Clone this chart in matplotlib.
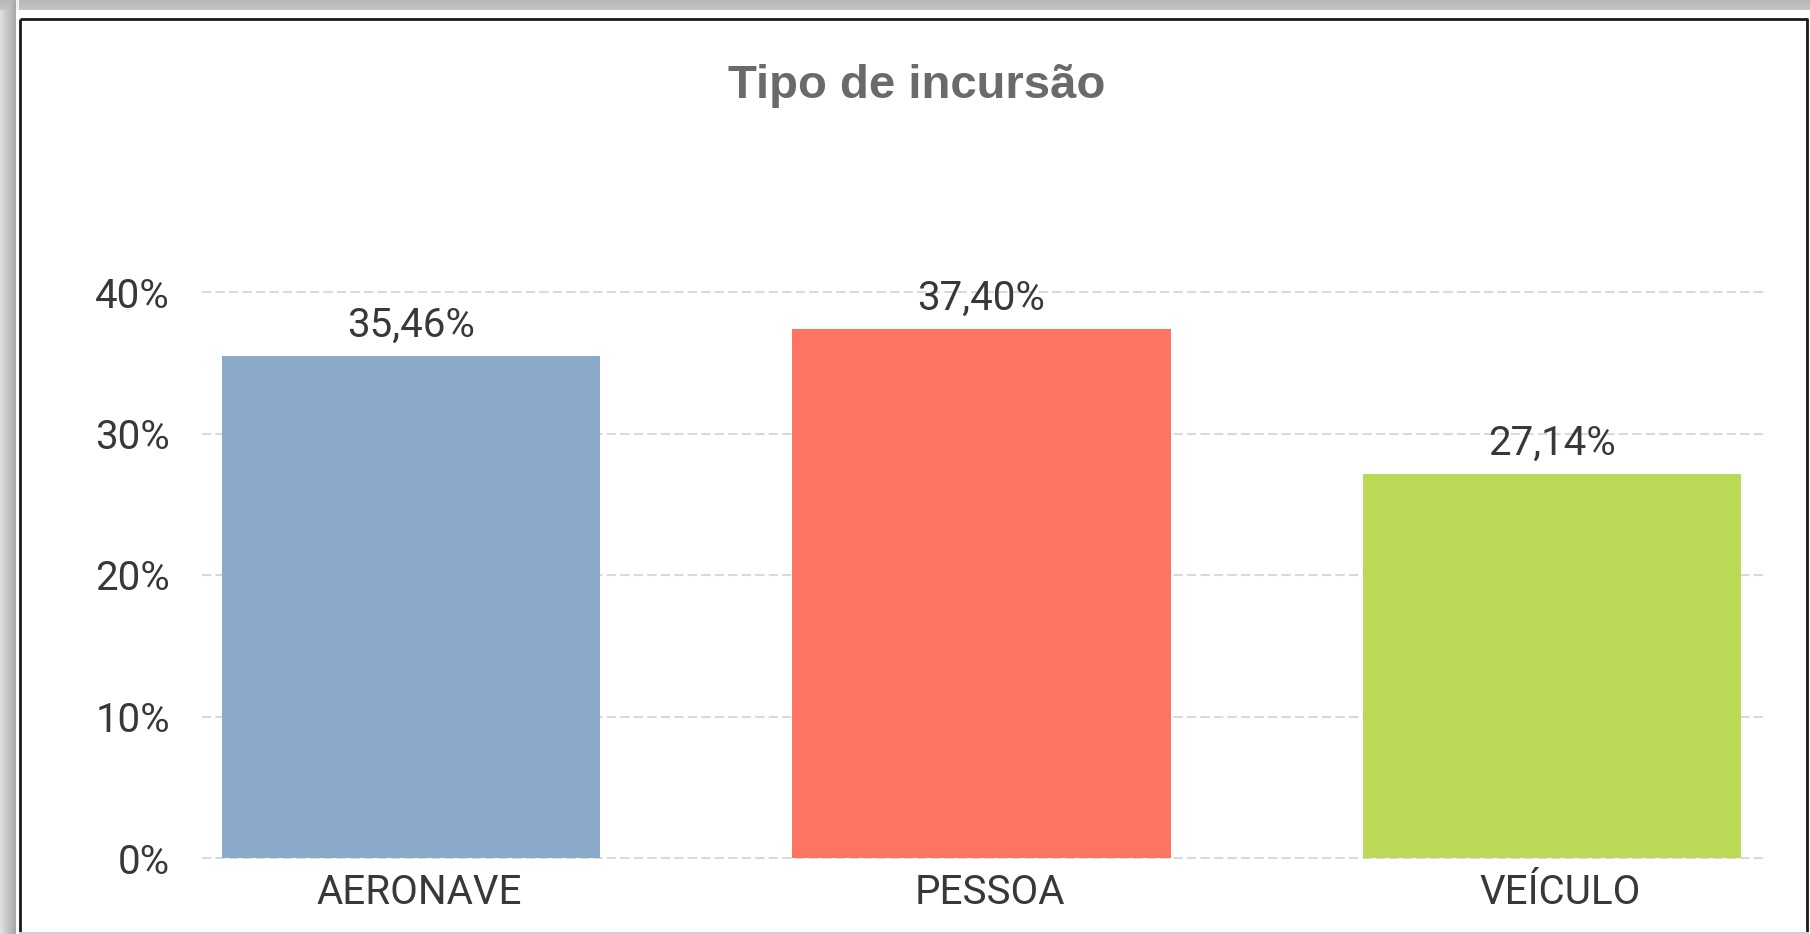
import numpy as np
import matplotlib
matplotlib.use("Agg")
import matplotlib.pyplot as plt
from matplotlib.ticker import FuncFormatter
from matplotlib.transforms import ScaledTranslation

# ---- data ----
categories = ["AERONAVE", "PESSOA", "VEÍCULO"]
values = [35.46, 37.40, 27.14]
bar_colors = ["#8BA9C9", "#FD7463", "#BBD857"]
yticks = [0, 10, 20, 30, 40]
title = "Tipo de incursão"

W, H = 1810, 934
fig = plt.figure(figsize=(W / 100, H / 100), dpi=100)
fig.patch.set_facecolor("white")

# ---- background frame with shadow ----
bg = fig.add_axes([0, 0, 1, 1], zorder=-10)
bg.set_xlim(0, W)
bg.set_ylim(H, 0)
bg.axis("off")
img = np.ones((H, W, 3))
for x in range(0, 16):
    g = 0.88 - 0.22 * (x / 15.0)
    img[:, x, :] = g
for y in range(0, 10):
    g = 0.72 + 0.05 * (y / 9.0)
    img[y, :, :] = np.minimum(img[y, :, :], g)
img[:, 16:19, :] = np.maximum(img[:, 16:19, :], 0.95)
bg.imshow(img, extent=[0, W, H, 0], aspect="auto", interpolation="nearest")
bg.plot([20, 20], [19, H], color="#1a1a1a", lw=2.0, solid_capstyle="butt")
bg.plot([20, 1808], [19, 19], color="#1a1a1a", lw=2.0, solid_capstyle="butt")
bg.plot([1807, 1807], [19, H], color="#1a1a1a", lw=2.0, solid_capstyle="butt")
bg.plot([20, 1808], [H - 1, H - 1], color="#d0d0d0", lw=1.5)

# ---- main axes ----
left_px, right_px, top_px, bot_px = 202, 1766, 292, 858
ax = fig.add_axes([left_px / W, 1 - bot_px / H, (right_px - left_px) / W, (bot_px - top_px) / H])
ax.set_facecolor("none")

x = np.arange(len(categories))
ax.bar(x, values, width=0.663, color=bar_colors, zorder=2)

ax.set_xlim(-0.366, 2.375)
ax.set_ylim(0, 40)
ax.set_yticks(yticks)
ax.yaxis.set_major_formatter(FuncFormatter(lambda v, p: f"{int(v)}%"))
ax.set_xticks(x)
ax.set_xticklabels(categories)

for yv in yticks:
    ax.axhline(yv, color="#d9d9d9", lw=1.45, dashes=(4.6, 2.1), zorder=1, clip_on=False)

font_fam = ["Roboto", "DejaVu Sans"]
txt_color = "#383838"
fs = 29
for lab in ax.get_yticklabels() + ax.get_xticklabels():
    lab.set_family(font_fam)
    lab.set_fontsize(fs)
    lab.set_color(txt_color)
ax.tick_params(axis="both", length=0)
ax.tick_params(axis="y", pad=23)
ax.tick_params(axis="x", pad=11)
shift = ScaledTranslation(8 / 100, 0, fig.dpi_scale_trans)
for lab in ax.get_xticklabels():
    lab.set_transform(lab.get_transform() + shift)

for s in ax.spines.values():
    s.set_visible(False)

for xi, v in zip(x, values):
    ax.annotate(f"{v:.2f}%".replace(".", ","), (xi, v), xytext=(0, 14),
                textcoords="offset points", ha="center", va="baseline",
                family=font_fam, fontsize=fs, color=txt_color)

fig.text(916.5 / W, 1 - 98 / H, title, ha="center", va="baseline",
         family=["Liberation Sans", "DejaVu Sans"], fontweight="bold",
         fontsize=34, color="#6a6a6a")

fig.savefig("out.png", dpi=100)
